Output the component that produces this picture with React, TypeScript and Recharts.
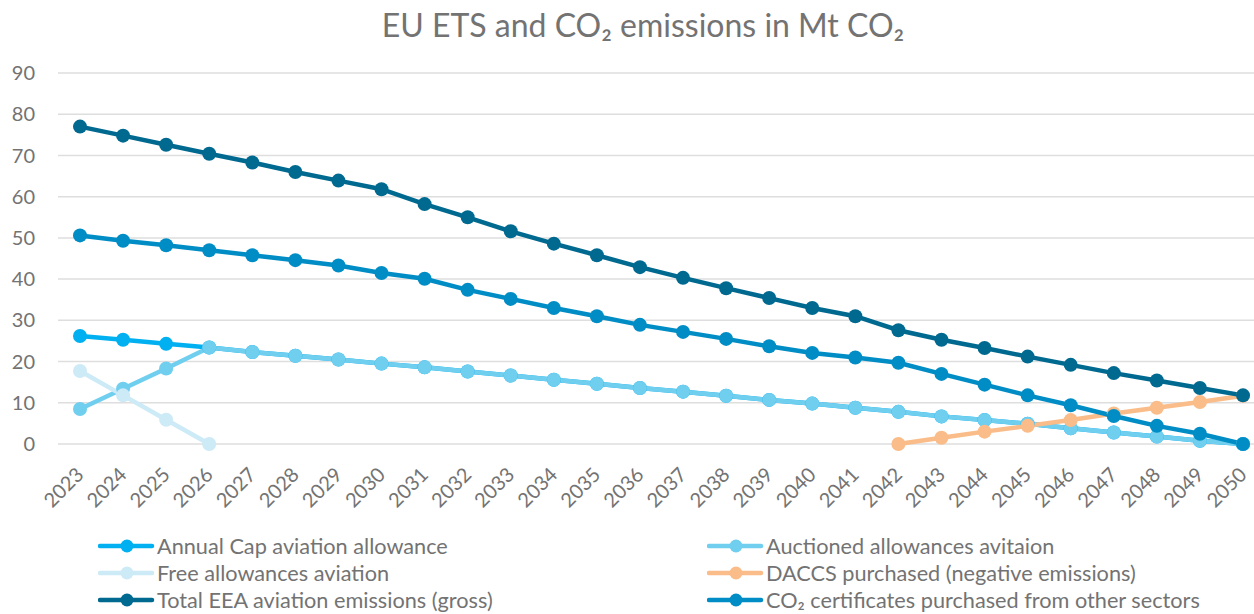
import React from "react";
import { LineChart, Line, XAxis, YAxis, CartesianGrid } from "recharts";

const years = [
  "2023", "2024", "2025", "2026", "2027", "2028", "2029", "2030", "2031", "2032",
  "2033", "2034", "2035", "2036", "2037", "2038", "2039", "2040", "2041", "2042",
  "2043", "2044", "2045", "2046", "2047", "2048", "2049", "2050",
];

const annualCap = [
  26.2, 25.3, 24.3, 23.4, 22.3, 21.4, 20.5, 19.5, 18.6, 17.6,
  16.6, 15.6, 14.6, 13.6, 12.7, 11.7, 10.7, 9.8, 8.8, 7.8,
  6.7, 5.8, 4.9, 3.8, 2.8, 1.8, 0.8, 0,
];

const auctioned = [
  8.5, 13.4, 18.3, 23.4, 22.3, 21.4, 20.5, 19.5, 18.6, 17.6,
  16.6, 15.6, 14.6, 13.6, 12.7, 11.7, 10.7, 9.8, 8.8, 7.8,
  6.7, 5.8, 4.9, 3.8, 2.8, 1.8, 0.8, 0,
];

const freeAllowances: (number | null)[] = [
  17.7, 11.8, 5.9, 0, null, null, null, null, null, null,
  null, null, null, null, null, null, null, null, null, null,
  null, null, null, null, null, null, null, null,
];

const daccs: (number | null)[] = [
  null, null, null, null, null, null, null, null, null, null,
  null, null, null, null, null, null, null, null, null, 0,
  1.5, 3.0, 4.4, 5.8, 7.4, 8.8, 10.2, 11.7,
];

const totalEmissions = [
  77.0, 74.8, 72.6, 70.4, 68.3, 66.0, 63.9, 61.8, 58.2, 55.0,
  51.6, 48.6, 45.8, 42.9, 40.3, 37.8, 35.4, 33.0, 31.0, 27.6,
  25.3, 23.3, 21.2, 19.2, 17.2, 15.4, 13.6, 11.8,
];

const certificates = [
  50.6, 49.3, 48.2, 47.0, 45.8, 44.6, 43.3, 41.5, 40.1, 37.4,
  35.2, 33.0, 31.0, 28.9, 27.2, 25.5, 23.7, 22.1, 21.0, 19.7,
  17.0, 14.4, 11.8, 9.4, 6.8, 4.4, 2.5, 0,
];

const yTicks = [0, 10, 20, 30, 40, 50, 60, 70, 80, 90];

const series = [
  { key: "cap", name: "Annual Cap aviation allowance", color: "#00B0F0", values: annualCap },
  { key: "auctioned", name: "Auctioned allowances avitaion", color: "#70CEEF", values: auctioned },
  { key: "free", name: "Free allowances aviation", color: "#CDEAF7", values: freeAllowances },
  { key: "daccs", name: "DACCS purchased (negative emissions)", color: "#FABC88", values: daccs },
  { key: "total", name: "Total EEA aviation emissions (gross)", color: "#006990", values: totalEmissions },
  { key: "cert", name: "CO₂ certificates purchased from other sectors", color: "#008DC5", values: certificates },
];

const data = years.map((year, i) => {
  const row: Record<string, string | number | null> = { year };
  series.forEach((s) => {
    row[s.key] = s.values[i];
  });
  return row;
});

const FONT = "Lato, 'Open Sans', sans-serif";
const TEXT = "#737373";

const XTick = (props: any) => {
  const { x, y, payload } = props;
  const py = y + 27;
  return (
    <text
      x={x}
      y={py}
      dy="0.35em"
      textAnchor="end"
      transform={`rotate(-45, ${x}, ${py})`}
      fill={TEXT}
      fontSize={20}
      fontFamily={FONT}
    >
      {payload.value}
    </text>
  );
};

const LegendBlock = () => {
  const cols = [98, 707];
  return (
    <div style={{ position: "absolute", left: 0, top: 534, width: 1254, height: 80 }}>
      {series.map((s, i) => {
        const col = i % 2;
        const row = Math.floor(i / 2);
        return (
          <div
            key={s.key}
            style={{
              position: "absolute",
              left: cols[col],
              top: row * 27,
              height: 24,
              display: "flex",
              alignItems: "center",
              whiteSpace: "nowrap",
            }}
          >
            <svg width={57} height={24} style={{ display: "block" }}>
              <line x1={2} y1={12} x2={54} y2={12} stroke={s.color} strokeWidth={4.5} strokeLinecap="round" />
              <circle cx={29} cy={12} r={6.5} fill={s.color} />
            </svg>
            <span style={{ fontFamily: FONT, fontSize: 21.7, lineHeight: "24px", color: TEXT, marginLeft: 2 }}>{s.name}</span>
          </div>
        );
      })}
    </div>
  );
};

export default function App() {
  return (
    <div
      style={{
        position: "fixed",
        left: 0,
        top: 0,
        width: 1254,
        height: 614,
        overflow: "hidden",
        background: "#fff",
      }}
    >
      <div
        style={{
          position: "absolute",
          left: 0,
          width: 1254,
          top: 6,
          textAlign: "center",
          paddingLeft: 32,
          boxSizing: "border-box",
          fontFamily: FONT,
          fontSize: 32,
          lineHeight: "38px",
          color: TEXT,
        }}
      >
        EU ETS and CO₂ emissions in Mt CO₂
      </div>
      <div style={{ position: "absolute", left: 0, top: 0 }}>
        <LineChart
          width={1254}
          height={614}
          data={data}
          margin={{ top: 73, right: 0, bottom: 100, left: 0 }}
        >
          <CartesianGrid vertical={false} stroke="#DEDEDE" strokeWidth={1.5} />
          <XAxis
            dataKey="year"
            interval={0}
            axisLine={false}
            tickLine={false}
            tickSize={0}
            tickMargin={0}
            height={70}
            padding={{ left: 22, right: 11 }}
            tick={<XTick />}
          />
          <YAxis
            domain={[0, 90]}
            ticks={yTicks}
            width={58}
            axisLine={false}
            tickLine={false}
            tickSize={0}
            tickMargin={23}
            tick={{ fill: TEXT, fontSize: 20, fontFamily: FONT }}
          />
          {series.map((s) => (
            <Line
              key={s.key}
              dataKey={s.key}
              name={s.name}
              stroke={s.color}
              strokeWidth={4.5}
              dot={{ r: 7, fill: s.color, stroke: "none" }}
              activeDot={false}
              isAnimationActive={false}
            />
          ))}
        </LineChart>
      </div>
      <LegendBlock />
    </div>
  );
}
